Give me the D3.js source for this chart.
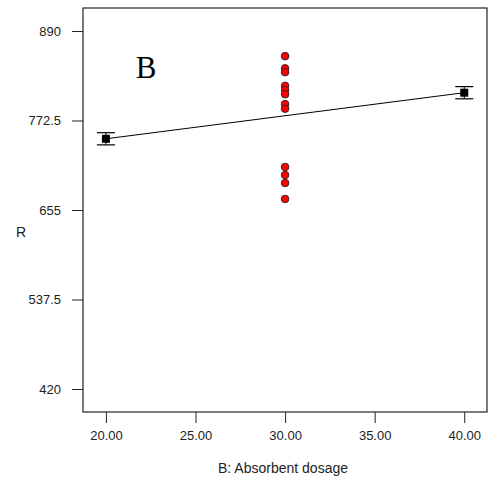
<!DOCTYPE html>
<html><head><meta charset="utf-8">
<script src="https://cdn.jsdelivr.net/npm/d3@7"></script>
<style>body{margin:0;background:#fff}svg{display:block}</style>
</head><body>
<script>
const xTicks = [20, 25, 30, 35, 40];
const yTicks = [420, 537.5, 655, 772.5, 890];
const designX = [30,30,30,30,30,30,30,30,30,30,30,30];
const designR = [857, 841, 836, 818, 812.5, 807, 794, 788, 711.5, 701, 690.5, 669.5];
const factorLevels = [20, 40];
const predMean = [748.5, 809];
const predLow = [740.5, 801];
const predHigh = [756.5, 817];

const W = 491, H = 484;
const m = {l: 83, r: 487, t: 8, b: 412};
const svg = d3.select("body").append("svg").attr("width", W).attr("height", H);
const x = d3.scaleLinear().domain([18.72, 41.27]).range([m.l, m.r]);
const y = d3.scaleLinear().domain([389.8, 920.2]).range([m.b, m.t]);

svg.append("rect").attr("x", m.l).attr("y", m.t).attr("width", m.r - m.l).attr("height", m.b - m.t)
  .attr("fill", "none").attr("stroke", "#222").attr("stroke-width", 1.2);

const font = "Liberation Sans, Arial, sans-serif";
const yAxis = svg.append("g").attr("transform", `translate(${m.l},0)`)
  .call(d3.axisLeft(y).tickValues(yTicks).tickSize(11).tickPadding(11).tickFormat(d => String(d)));
yAxis.select(".domain").remove();
yAxis.selectAll("text").attr("font-family", font).attr("font-size", 13).attr("fill", "#222");
yAxis.selectAll("line").attr("stroke", "#222");

const xAxis = svg.append("g").attr("transform", `translate(0,${m.b})`)
  .call(d3.axisBottom(x).tickValues(xTicks).tickSize(11).tickPadding(8).tickFormat(d3.format(".2f")));
xAxis.select(".domain").remove();
xAxis.selectAll("text").attr("font-family", font).attr("font-size", 13).attr("fill", "#222");
xAxis.selectAll("line").attr("stroke", "#222");

svg.append("text").attr("x", 283).attr("y", 473).attr("text-anchor", "middle")
  .attr("font-family", font).attr("font-size", 14).attr("fill", "#222").text("B: Absorbent dosage");
svg.append("text").attr("x", 21).attr("y", 237).attr("text-anchor", "middle")
  .attr("font-family", font).attr("font-size", 14).attr("fill", "#222").text("R");

svg.append("text").attr("x", 146).attr("y", 78).attr("text-anchor", "middle")
  .attr("font-family", "Liberation Serif, Times New Roman, serif").attr("font-size", 31).attr("fill", "#000").text("B");

// prediction line
svg.append("line").attr("x1", x(factorLevels[0])).attr("y1", y(predMean[0]))
  .attr("x2", x(factorLevels[1])).attr("y2", y(predMean[1])).attr("stroke", "#000").attr("stroke-width", 1);

// error bars
factorLevels.forEach((lv, i) => {
  const cx = x(lv);
  svg.append("line").attr("x1", cx).attr("x2", cx).attr("y1", y(predLow[i])).attr("y2", y(predHigh[i])).attr("stroke", "#000");
  [predLow[i], predHigh[i]].forEach(v => {
    svg.append("line").attr("x1", cx - 9).attr("x2", cx + 9).attr("y1", y(v)).attr("y2", y(v)).attr("stroke", "#000").attr("stroke-width", 1.2);
  });
  svg.append("rect").attr("x", cx - 4).attr("y", y(predMean[i]) - 4).attr("width", 8).attr("height", 8).attr("fill", "#000");
});

// design points
svg.selectAll("circle.pt").data(designR).enter().append("circle").attr("class", "pt")
  .attr("cx", (d, i) => x(designX[i])).attr("cy", d => y(d)).attr("r", 3.8)
  .attr("fill", "#ff0000").attr("stroke", "#222").attr("stroke-width", 0.9);
</script>
</body></html>
